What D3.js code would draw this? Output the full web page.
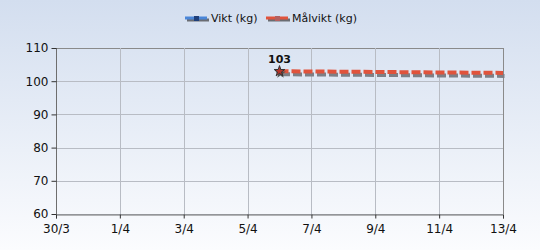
<!DOCTYPE html>
<html>
<head>
<meta charset="utf-8">
<script src="https://cdn.jsdelivr.net/npm/d3@7"></script>
<style>
body { margin: 0; }
svg { display: block; font-family: "DejaVu Sans", sans-serif; }
</style>
</head>
<body>
<div id="chart"></div>
<script>
var svgWidth = 540;
var svgHeight = 250;

var margin = { top: 48, right: 37, bottom: 36, left: 56 };
var width = svgWidth - margin.left - margin.right;
var height = svgHeight - margin.top - margin.bottom;

var parseDate = d3.timeParse("%Y-%m-%d");

// data
var xStart = "2013-03-30";
var xEnd = "2013-04-13";
var yTicks = [60, 70, 80, 90, 100, 110];
var viktDates = ["2013-04-06"];
var viktValues = [103];
var malDates = ["2013-04-06", "2013-04-13"];
var malValues = [103, 102.5];

var vikt = viktDates.map((d, i) => ({ date: parseDate(d), value: viktValues[i] }));
var malvikt = malDates.map((d, i) => ({ date: parseDate(d), value: malValues[i] }));

var svg = d3.select("#chart")
    .append("svg")
    .attr("width", svgWidth)
    .attr("height", svgHeight);

var defs = svg.append("defs");
var grad = defs.append("linearGradient")
    .attr("id", "bg")
    .attr("x1", 0).attr("y1", 0).attr("x2", 0).attr("y2", 1);
grad.append("stop").attr("offset", "0%").attr("stop-color", "#d3deef");
grad.append("stop").attr("offset", "100%").attr("stop-color", "#fbfcfe");

svg.append("rect")
    .attr("width", svgWidth)
    .attr("height", svgHeight)
    .attr("fill", "url(#bg)");

var chartGroup = svg.append("g")
    .attr("transform", `translate(${margin.left}, ${margin.top})`);

var xScale = d3.scaleTime()
    .domain([parseDate(xStart), parseDate(xEnd)])
    .range([0, width]);

var yScale = d3.scaleLinear()
    .domain([60, 110])
    .range([height, 0]);

var xTickDates = d3.timeDay.range(parseDate(xStart), d3.timeDay.offset(parseDate(xEnd), 1), 2);

// grid
chartGroup.append("g")
    .selectAll("line")
    .data(yTicks)
    .enter()
    .append("line")
    .attr("x1", 0)
    .attr("x2", width)
    .attr("y1", d => Math.round(yScale(d)) + 0.5)
    .attr("y2", d => Math.round(yScale(d)) + 0.5)
    .attr("stroke", d => d === 110 ? "#8a8a8a" : "#b8bcc4")
    .attr("stroke-width", 1);

chartGroup.append("g")
    .selectAll("line")
    .data(xTickDates)
    .enter()
    .append("line")
    .attr("x1", d => Math.round(xScale(d)) + 0.5)
    .attr("x2", d => Math.round(xScale(d)) + 0.5)
    .attr("y1", 0)
    .attr("y2", height)
    .attr("stroke", (d, i) => i === xTickDates.length - 1 ? "#8a8a8a" : "#b8bcc4")
    .attr("stroke-width", 1);

// axes
var leftAxis = d3.axisLeft(yScale)
    .tickValues(yTicks)
    .tickSize(5)
    .tickPadding(3);

var bottomAxis = d3.axisBottom(xScale)
    .tickValues(xTickDates)
    .tickFormat(d3.timeFormat("%-d/%-m"))
    .tickSize(4)
    .tickPadding(6);

var yAxisG = chartGroup.append("g")
    .attr("transform", "translate(0.5, 0)")
    .call(leftAxis);

var xAxisG = chartGroup.append("g")
    .attr("transform", `translate(0, ${height + 0.5})`)
    .call(bottomAxis);

[yAxisG, xAxisG].forEach(g => {
    g.select(".domain").attr("stroke", "#6e6e6e");
    g.selectAll(".tick line").attr("stroke", "#333");
    g.selectAll("text")
        .attr("fill", "#111")
        .style("font-size", "12px")
        .style("font-family", "\"DejaVu Sans\", sans-serif");
});
yAxisG.selectAll(".domain").attr("d", `M0,${height}V0`);

// Målvikt line with shadow
var line = d3.line()
    .x(d => xScale(d.date))
    .y(d => yScale(d.value));

chartGroup.append("path")
    .datum(malvikt)
    .attr("d", line)
    .attr("transform", "translate(1.5, 3)")
    .attr("fill", "none")
    .attr("stroke", "#7d7f86")
    .attr("stroke-width", 4)
    .attr("stroke-dasharray", "9,3");

chartGroup.append("path")
    .datum(malvikt)
    .attr("d", line)
    .attr("fill", "none")
    .attr("stroke", "#e0533c")
    .attr("stroke-width", 4)
    .attr("stroke-dasharray", "9,3");

// Vikt point
var star = d3.symbol().type(d3.symbolStar).size(36);

chartGroup.selectAll(".vikt-shadow")
    .data(vikt)
    .enter()
    .append("path")
    .attr("d", star)
    .attr("transform", d => `translate(${xScale(d.date) + 1}, ${yScale(d.value) + 2})`)
    .attr("fill", "#555");

chartGroup.selectAll(".vikt")
    .data(vikt)
    .enter()
    .append("path")
    .attr("d", star)
    .attr("transform", d => `translate(${xScale(d.date)}, ${yScale(d.value)})`)
    .attr("fill", "#b8352b")
    .attr("stroke", "#333")
    .attr("stroke-width", 1);

chartGroup.selectAll(".vikt-label")
    .data(vikt)
    .enter()
    .append("text")
    .attr("x", d => xScale(d.date))
    .attr("y", d => yScale(d.value) - 8)
    .attr("text-anchor", "middle")
    .style("font-size", "11px")
    .style("font-weight", "bold")
    .attr("fill", "#111")
    .text(d => d.value);

// legend
var legendItems = [
    { label: "Vikt (kg)", color: "#4a86d8", x: 185 },
    { label: "Målvikt (kg)", color: "#e0533c", x: 266 }
];

var legend = svg.append("g");
legendItems.forEach(item => {
    var g = legend.append("g").attr("transform", `translate(${item.x}, 18)`);
    g.append("line")
        .attr("x1", 2).attr("x2", 24).attr("y1", 2).attr("y2", 2)
        .attr("stroke", "#6a6c72").attr("stroke-width", 3);
    g.append("line")
        .attr("x1", 0).attr("x2", 22).attr("y1", 0).attr("y2", 0)
        .attr("stroke", item.color).attr("stroke-width", 3);
    g.append("rect")
        .attr("x", 9).attr("y", -2).attr("width", 5).attr("height", 5)
        .attr("fill", item.label === "Vikt (kg)" ? "#1f3f7a" : "#b36060");
    g.append("text")
        .attr("x", 26)
        .attr("y", 4)
        .style("font-size", "11px")
        .attr("fill", "#111")
        .text(item.label);
});
</script>
</body>
</html>
